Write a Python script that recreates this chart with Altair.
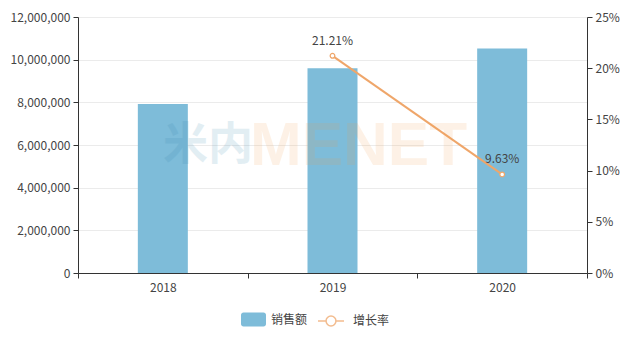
import altair as alt
import pandas as pd

years = ["2018", "2019", "2020"]
sales = [7920000, 9600000, 10525000]
growth = [None, 0.2121, 0.0963]
growth_labels = ["", "21.21%", "9.63%"]

BLUE = "#7EBCD9"
ORANGE = "#EFA66A"
FONT = "Noto Sans CJK SC"

df = pd.DataFrame({"year": years, "sales": sales, "growth": growth,
                   "glabel": growth_labels,
                   "s1": ["销售额"] * 3, "s2": ["增长率"] * 3})
dfl = df.dropna(subset=["growth"])

W, H = 509, 256

x = alt.X("year:N", title=None, sort=years,
          scale=alt.Scale(paddingInner=0, paddingOuter=0),
          axis=alt.Axis(labelAngle=0, tickBand="extent", domainColor="#333",
                        tickColor="#333", labelColor="#444", labelFontSize=12,
                        labelFont=FONT, labelPadding=4, tickSize=5, grid=False))

rect_path = "M-0.8,-0.56H0.8A0.2,0.2 0 0 1 1,-0.36V0.36A0.2,0.2 0 0 1 0.8,0.56H-0.8A0.2,0.2 0 0 1 -1,0.36V-0.36A0.2,0.2 0 0 1 -0.8,-0.56Z"
line_path = "M-1,0H-0.38M0.38,0H1M0.38,0A0.38,0.38 0 1 1 -0.38,0A0.38,0.38 0 1 1 0.38,0Z"

bars = alt.Chart(df).mark_bar(size=50, color=BLUE).encode(
    x=x,
    y=alt.Y("sales:Q", title=None,
            scale=alt.Scale(domain=[0, 12000000]),
            axis=alt.Axis(values=[0, 2000000, 4000000, 6000000, 8000000, 10000000, 12000000],
                          format=",d", domainColor="#333", tickColor="#333",
                          labelColor="#444", labelFontSize=12, labelFont=FONT,
                          gridColor="#EBEBEB", tickSize=5, labelPadding=3)),
    fill=alt.Fill("s1:N", scale=alt.Scale(domain=["销售额"], range=[BLUE]),
                  legend=alt.Legend(title=None, orient="none", legendX=163, legendY=290,
                                    symbolType=rect_path, symbolSize=625,
                                    symbolStrokeWidth=0, labelFont=FONT,
                                    labelFontSize=12, labelColor="#444", labelOffset=5)),
)

yscale = alt.Scale(domain=[0, 0.25])
yr = alt.Y("growth:Q", title=None, scale=yscale,
           axis=alt.Axis(orient="right", values=[0, 0.05, 0.1, 0.15, 0.2, 0.25],
                         format=".0%", domainColor="#333", tickColor="#333",
                         labelColor="#444", labelFontSize=12, labelFont=FONT,
                         grid=False, tickSize=5, labelPadding=3))
yr_noaxis = alt.Y("growth:Q", title=None, scale=yscale, axis=None)

line = alt.Chart(dfl).mark_line(strokeWidth=2).encode(
    x=x, y=yr,
    stroke=alt.Stroke("s2:N", scale=alt.Scale(domain=["增长率"], range=[ORANGE]),
                      legend=alt.Legend(title=None, orient="none", legendX=239, legendY=290,
                                        symbolType=line_path, symbolSize=676,
                                        symbolStrokeWidth=1.5, symbolFillColor="white",
                                        symbolOpacity=0.75,
                                        labelFont=FONT, labelFontSize=12,
                                        labelColor="#444", labelOffset=8)),
)
pts = alt.Chart(dfl).mark_point(filled=True, fill="white", stroke=ORANGE,
                                strokeWidth=1.2, size=22, opacity=1).encode(x=x, y=yr_noaxis)
labels = alt.Chart(dfl).mark_text(dy=-15, font=FONT, fontSize=12, color="#444").encode(
    x=x, y=yr_noaxis, text="glabel:N")

wm1 = alt.Chart(df.head(1)).mark_text(text="米内", font=FONT, fontWeight="bold",
                                     fontSize=45, align="left", baseline="middle",
                                     color="#2C7FA8", opacity=0.13).encode(
    x=alt.value(85), y=alt.value(129))
wm2 = alt.Chart(df.head(1)).mark_text(text="MENET", font="Liberation Sans", fontWeight="bold",
                                     fontSize=62, align="left", baseline="middle",
                                     color="#F59A45", opacity=0.13).encode(
    x=alt.value(172), y=alt.value(129))

chart = alt.layer(
    bars, line, pts, labels, wm1, wm2
).resolve_scale(y="independent", fill="independent", stroke="independent").properties(
    width=W, height=H,
    autosize=alt.AutoSizeParams(type="none"),
    padding={"left": 78, "top": 17, "right": 54, "bottom": 66},
    background="white",
).configure_view(stroke=None)

chart.save("out.html", embed_options={"renderer": "svg", "actions": False})
